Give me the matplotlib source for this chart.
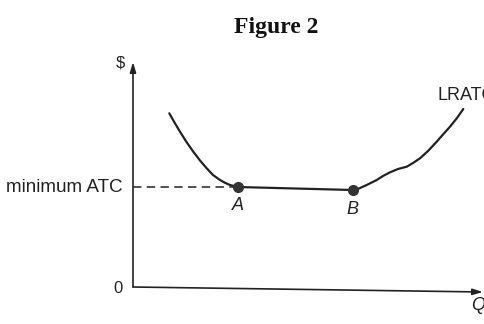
import matplotlib
matplotlib.use("Agg")
import matplotlib.pyplot as plt

# Data (Q, $)
curve_q = [3.63, 4.15, 4.7, 5.35, 6.03, 6.7, 7.37, 8.0, 8.7, 9.2, 9.7, 10.5, 16.2, 21.95,
           22.6, 23.37, 24.37, 25.0, 25.7, 26.5, 27.37, 28.0, 28.7, 29.5, 30.37, 31.0,
           31.7, 32.4, 33.03]
curve_p = [17.37, 16.45, 15.53, 14.5, 13.53, 12.65, 11.87, 11.2, 10.7, 10.42, 10.2, 10.0,
           9.85, 9.7, 9.85, 10.2, 10.7, 11.1, 11.47, 11.8, 12.03, 12.4, 12.87, 13.6, 14.53,
           15.25, 16.03, 16.9, 17.8]
point_labels = ["A", "B"]
point_q = [10.5, 21.95]
point_p = [10.0, 9.7]
min_atc = 10.0
title = "Figure 2"

W, H = 484, 324
fig = plt.figure(figsize=(W / 100, H / 100), dpi=100)
fig.patch.set_facecolor("white")
ax = fig.add_axes([133 / W, 37 / H, 350 / W, 225 / H])
ax.set_xlim(0, 35)
ax.set_ylim(0, 22.5)
ax.axis("off")

ink = "#222222"
sans = "Liberation Sans"

# axes with arrows
ax.annotate("", xy=(0, 22.5), xytext=(0, 0),
            arrowprops=dict(arrowstyle="-|>,head_length=0.6,head_width=0.18",
                            color=ink, lw=1.2, shrinkA=0, shrinkB=0),
            annotation_clip=False)
ax.annotate("", xy=(35.0, -0.5), xytext=(0, 0),
            arrowprops=dict(arrowstyle="-|>,head_length=0.6,head_width=0.18",
                            color=ink, lw=1.2, shrinkA=0, shrinkB=0),
            annotation_clip=False)

# dashed minimum line
ax.plot([0, point_q[0]], [min_atc, min_atc], color=ink, lw=1.1,
        linestyle=(0, (5.5, 3.5)), clip_on=False)

# LRATC curve
ax.plot(curve_q, curve_p, color=ink, lw=1.6, solid_capstyle="round",
        solid_joinstyle="round", clip_on=False)

# points
ax.plot(point_q, point_p, "o", color="#333333", markersize=7, clip_on=False)
for lab, q, p in zip(point_labels, point_q, point_p):
    ax.text(q, p - 1.9, lab, ha="center", va="center", fontsize=13,
            family=sans, style="italic", color=ink, clip_on=False)

# axis labels
ax.text(-1.0, min_atc, "minimum ATC", ha="right", va="center", fontsize=13.6,
        family=sans, color=ink, clip_on=False)
ax.text(-1.3, 22.4, "$", ha="center", va="center", fontsize=12,
        family=sans, color=ink, clip_on=False)
ax.text(-1.5, -0.15, "0", ha="center", va="center", fontsize=12,
        family=sans, color=ink, clip_on=False)
ax.text(34.5, -1.8, "Q", ha="center", va="center", fontsize=13,
        family=sans, style="italic", color=ink, clip_on=False)
ax.text(30.4, 19.2, "LRATC", ha="left", va="center", fontsize=13,
        family=sans, color=ink, clip_on=False)

fig.text(276 / W, 1 - 33 / H, title, ha="center", va="baseline",
         fontsize=17, family="Liberation Serif", weight="bold", color="#111111")

fig.savefig("out.png", dpi=100, facecolor="white")
